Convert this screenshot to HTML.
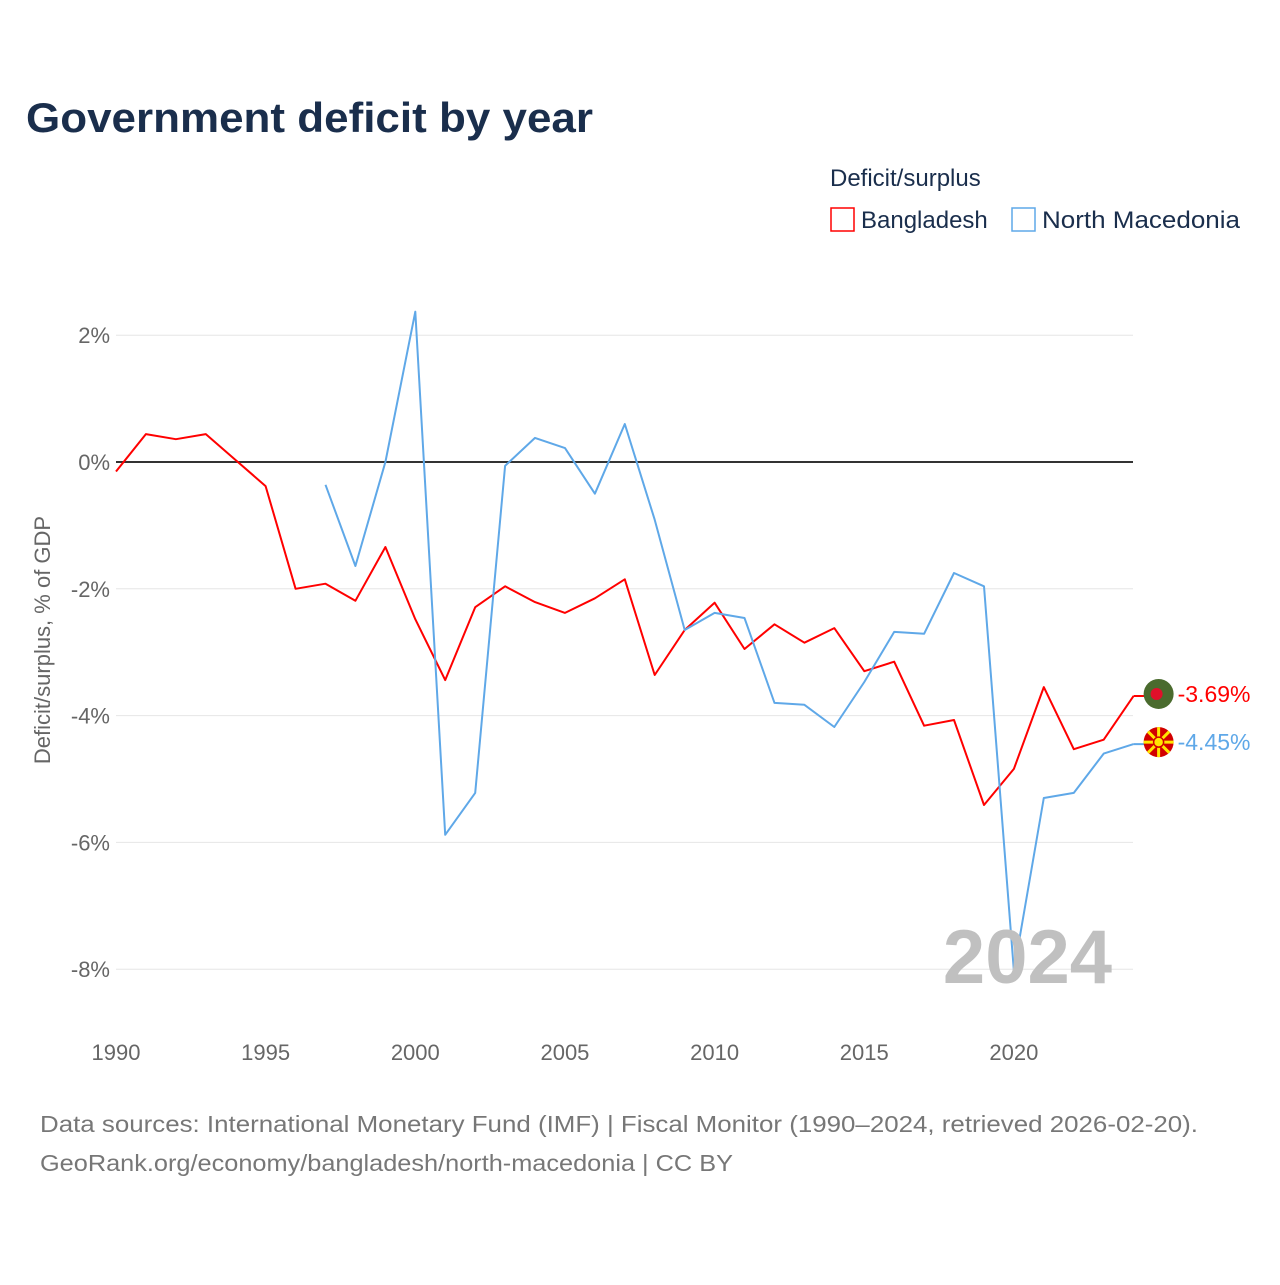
<!DOCTYPE html>
<html><head><meta charset="utf-8"><style>
body{margin:0;background:#fff;font-family:"Liberation Sans",sans-serif;}
svg text{font-family:"Liberation Sans",sans-serif;}
</style></head><body>
<svg width="1280" height="1280" viewBox="0 0 1280 1280" id="chart">
<text x="26" y="132" font-size="42" font-weight="bold" fill="#1a2e4c" textLength="567" lengthAdjust="spacingAndGlyphs">Government deficit by year</text>
<text x="830" y="186" font-size="24" fill="#1a2e4c">Deficit/surplus</text>
<g><rect x="831" y="208" width="23" height="23" fill="none" stroke="#ff0000" stroke-width="1.5"/><text x="861" y="228" font-size="24" fill="#1a2e4c">Bangladesh</text></g>
<g><rect x="1012" y="208" width="23" height="23" fill="none" stroke="#5fa8e8" stroke-width="1.5"/><text x="1042" y="228" font-size="24" fill="#1a2e4c" textLength="198" lengthAdjust="spacingAndGlyphs">North Macedonia</text></g>
<g id="grid"></g><g id="series"></g>
<text x="1112" y="983" font-size="76" font-weight="bold" fill="#c0c0c0" text-anchor="end">2024</text>
<text transform="translate(50,640) rotate(-90)" font-size="22" fill="#666" text-anchor="middle">Deficit/surplus, % of GDP</text>
<text x="40" y="1132" font-size="23" fill="#777" textLength="1158" lengthAdjust="spacingAndGlyphs">Data sources: International Monetary Fund (IMF) | Fiscal Monitor (1990–2024, retrieved 2026-02-20).</text>
<text x="40" y="1171" font-size="23" fill="#777" textLength="693" lengthAdjust="spacingAndGlyphs">GeoRank.org/economy/bangladesh/north-macedonia | CC BY</text>
</svg>
<script>
const years=[1990,1991,1992,1993,1994,1995,1996,1997,1998,1999,2000,2001,2002,2003,2004,2005,2006,2007,2008,2009,2010,2011,2012,2013,2014,2015,2016,2017,2018,2019,2020,2021,2022,2023,2024];
const bangladesh=[-0.15,0.44,0.36,0.44,0.03,-0.38,-2.0,-1.92,-2.19,-1.34,-2.48,-3.44,-2.29,-1.96,-2.21,-2.38,-2.15,-1.85,-3.36,-2.65,-2.22,-2.95,-2.56,-2.85,-2.62,-3.3,-3.15,-4.16,-4.07,-5.41,-4.84,-3.55,-4.53,-4.38,-3.69];
const macedonia=[null,null,null,null,null,null,null,-0.36,-1.64,0.0,2.37,-5.88,-5.22,-0.06,0.38,0.22,-0.5,0.6,-0.91,-2.65,-2.38,-2.46,-3.8,-3.83,-4.18,-3.47,-2.68,-2.71,-1.75,-1.96,-8.03,-5.3,-5.22,-4.6,-4.45];
const yTicks=[2,0,-2,-4,-6,-8];
const xTicks=[1990,1995,2000,2005,2010,2015,2020];
const NS="http://www.w3.org/2000/svg";
const X=y=>116+(y-1990)*29.93;
const Y=v=>462-v*63.4;
function mk(t,a,p){const e=document.createElementNS(NS,t);for(const k in a)e.setAttribute(k,a[k]);p.appendChild(e);return e;}
const g=document.getElementById('grid'),s=document.getElementById('series');
yTicks.forEach(v=>{
 const l=mk('line',{x1:116,x2:1133,y1:Y(v),y2:Y(v),stroke:v===0?'#333':'#e6e6e6','stroke-width':v===0?2:1},g);
 
 
 const t=mk('text',{x:110,y:Y(v)+8,'font-size':22,fill:'#666','text-anchor':'end'},g);t.textContent=v+'%';
 
 
});
xTicks.forEach(v=>{
 const t=mk('text',{x:X(v),y:1060,'font-size':22,fill:'#666','text-anchor':'middle'},g);t.textContent=v;
 
 
});
function line(vals,color,name){
 let d='',pen=false;
 vals.forEach((v,i)=>{if(v===null){pen=false;return;}d+=(pen?'L':'M')+X(years[i]).toFixed(1)+' '+Y(v).toFixed(1)+' ';pen=true;});
 const p=mk('path',{d:d,fill:'none',stroke:color,'stroke-width':2,'stroke-linejoin':'round'},s);
 
 
 const last=vals[vals.length-1],lx=X(years[years.length-1]);
 mk('line',{x1:lx,x2:lx+24,y1:Y(last),y2:Y(last),stroke:color,'stroke-width':2},s);
 return [lx+25,Y(last)-2,last];
}
const b=line(bangladesh,'#ff0000','bangladesh-line');
const m=line(macedonia,'#5fa8e8','north-macedonia-line');
let f=mk('circle',{cx:b[0],cy:b[1],r:15,fill:'#4a6b2e'},s);
mk('circle',{cx:b[0]-2,cy:b[1],r:6,fill:'#e0102a'},s);
f=mk('circle',{cx:m[0],cy:m[1],r:15,fill:'#d20000'},s);
for(let a=0;a<8;a++){const an=a*Math.PI/4;mk('line',{x1:m[0],y1:m[1],x2:m[0]+15*Math.cos(an),y2:m[1]+15*Math.sin(an),stroke:'#ffe600','stroke-width':3},s);}
mk('circle',{cx:m[0],cy:m[1],r:5,fill:'#ffe600',stroke:'#d20000','stroke-width':1.5},s);
let t=mk('text',{x:b[0]+19,y:b[1]+8,'font-size':23,fill:'#ff0000'},s);t.textContent=b[2].toFixed(2)+'%';

t=mk('text',{x:m[0]+19,y:m[1]+8,'font-size':23,fill:'#5fa8e8'},s);t.textContent=m[2].toFixed(2)+'%';

</script>
</body></html>
